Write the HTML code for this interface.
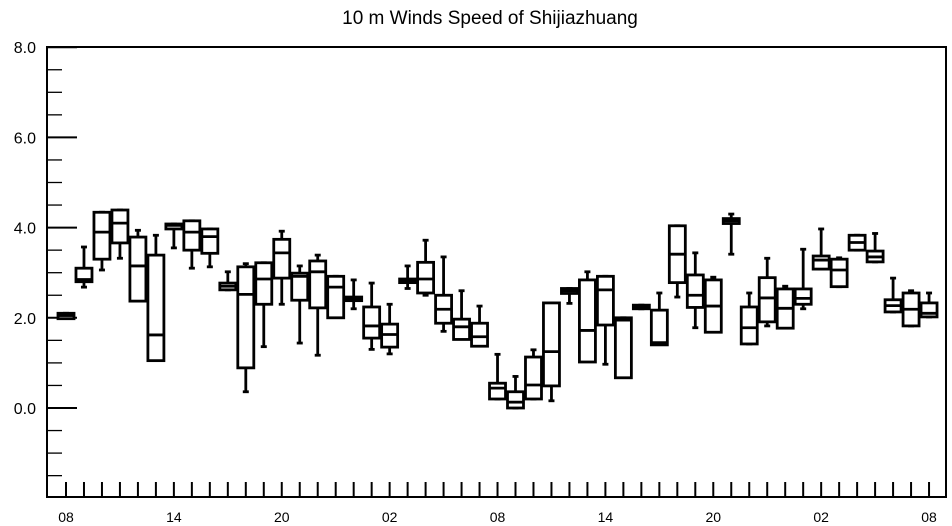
<!DOCTYPE html>
<html><head><meta charset="utf-8"><style>
body{margin:0;background:#fff;}
svg{display:block;font-family:"Liberation Sans",sans-serif;}
</style></head><body>
<svg id="chart" width="952" height="526" viewBox="0 0 952 526" xmlns="http://www.w3.org/2000/svg">
<text x="490" y="24" font-size="19" text-anchor="middle">10 m Winds Speed of Shijiazhuang</text>
<g id="axes"></g>
<g id="boxes"></g>
</svg>
<script>
const mins=[2.0,2.68,3.06,3.32,2.4,1.1,3.55,3.1,3.13,2.62,0.36,1.36,2.3,1.44,1.17,2.05,2.2,1.3,1.2,2.65,2.5,1.7,1.55,1.4,0.2,0.0,0.2,0.16,2.32,1.1,0.97,0.7,2.2,1.45,2.46,1.78,1.72,3.41,1.42,1.82,1.8,2.2,3.08,2.69,3.5,3.24,2.13,1.82,2.02];
const q1s=[1.98,2.8,3.3,3.66,2.37,1.05,3.97,3.5,3.43,2.62,0.89,2.3,2.88,2.39,2.22,2.0,2.38,1.55,1.35,2.78,2.55,1.88,1.52,1.37,0.2,0.0,0.2,0.49,2.54,1.02,1.84,0.67,2.2,1.4,2.78,2.23,1.68,4.09,1.42,1.91,1.77,2.3,3.08,2.69,3.5,3.24,2.13,1.82,2.02];
const medians=[2.05,2.85,3.9,4.1,3.15,1.62,4.05,3.9,3.8,2.7,2.52,2.86,3.44,2.92,3.02,2.68,2.42,1.82,1.63,2.82,2.86,2.19,1.8,1.58,0.44,0.13,0.51,1.25,2.6,1.72,2.62,1.95,2.25,1.45,3.41,2.5,2.26,4.15,1.78,2.44,2.21,2.43,3.28,3.06,3.67,3.35,2.27,2.19,2.1];
const q3s=[2.1,3.1,4.34,4.39,3.79,3.39,4.08,4.15,3.97,2.77,3.13,3.22,3.74,2.99,3.26,2.92,2.46,2.24,1.86,2.86,3.23,2.5,1.97,1.88,0.55,0.36,1.13,2.33,2.65,2.84,2.92,2.0,2.28,2.17,4.04,2.95,2.84,4.2,2.24,2.89,2.64,2.64,3.37,3.3,3.83,3.48,2.4,2.55,2.33];
const maxs=[2.1,3.57,4.34,4.39,3.94,3.83,4.08,4.15,3.97,3.02,3.2,3.22,3.92,3.15,3.39,2.92,2.84,2.77,2.3,3.15,3.72,3.35,2.6,2.26,1.19,0.7,1.29,2.33,2.65,3.02,2.92,2.0,2.28,2.55,4.04,3.44,2.9,4.3,2.55,3.32,2.7,3.52,3.97,3.33,3.83,3.87,2.88,2.6,2.55];
const xLabels=["08","14","20","02","08","14","20","02","08"];
const yTicks=[0,2,4,6,8];

const NS="http://www.w3.org/2000/svg";
const X0=47,X1=946,Y0=47,Y1=497;
function yS(v){return 408-(v*45.1);}
function xS(i){return 66+i*17.98;}
function mk(tag,attrs,parent){const e=document.createElementNS(NS,tag);for(const k in attrs)e.setAttribute(k,attrs[k]);parent.appendChild(e);return e;}
const ax=document.getElementById('axes');
const frame=mk('rect',{x:X0,y:Y0,width:X1-X0,height:Y1-Y0,fill:'none',stroke:'#000','stroke-width':2},ax);


for(let v=-1.5;v<=8.01;v+=0.5){
  const major=yTicks.includes(Math.round(v*10)/10);
  const t=mk('line',{x1:X0,x2:X0+(major?30:15),y1:yS(v),y2:yS(v),stroke:'#000','stroke-width':major?2:1.3},ax);
  
  
}
yTicks.forEach(v=>{
  const t=mk('text',{x:36,y:yS(v)+6,'font-size':16,'text-anchor':'end'},ax);
  t.textContent=v.toFixed(1);
  
  
});
for(let i=0;i<mins.length;i++){
  const t=mk('line',{x1:xS(i),x2:xS(i),y1:Y1,y2:Y1-15,stroke:'#000','stroke-width':2},ax);
  
  
}
xLabels.forEach((s,k)=>{
  const t=mk('text',{x:xS(k*6),y:522,'font-size':14,'text-anchor':'middle'},ax);
  t.textContent=s;
  
  
});
const bx=document.getElementById('boxes');
for(let i=0;i<mins.length;i++){
  const g=mk('g',{stroke:'#000','stroke-width':2.8,fill:'none'},bx);
  
  
  const x=xS(i),w=16;
  const top=yS(q3s[i]),bot=yS(q1s[i]);
  mk('line',{x1:x,x2:x,y1:yS(maxs[i]),y2:top},g);
  mk('line',{x1:x,x2:x,y1:bot,y2:yS(mins[i])},g);
  mk('line',{x1:x-3,x2:x+3,y1:yS(maxs[i]),y2:yS(maxs[i])},g);
  mk('line',{x1:x-3,x2:x+3,y1:yS(mins[i]),y2:yS(mins[i])},g);
  mk('rect',{x:x-w/2,y:top,width:w,height:Math.max(bot-top,1),fill:'#fff'},g);
  mk('line',{x1:x-w/2,x2:x+w/2,y1:yS(medians[i]),y2:yS(medians[i])},g);
}
</script>
</body></html>
